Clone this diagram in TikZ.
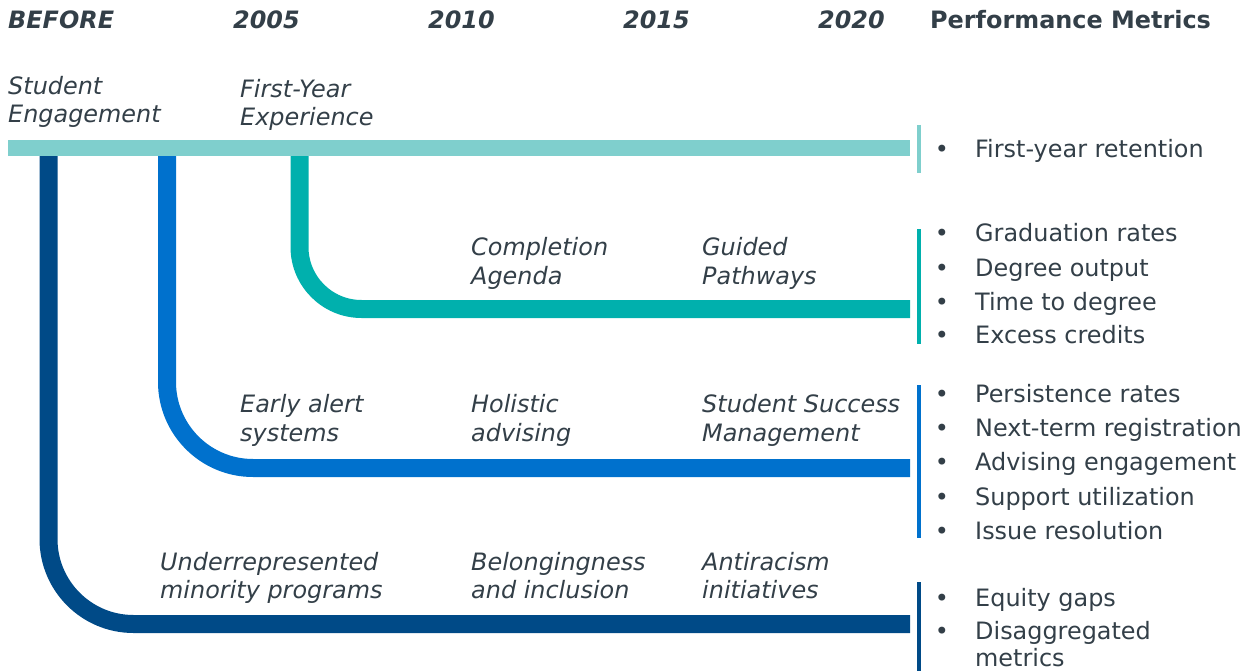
\documentclass[tikz,border=0pt]{standalone}
\usepackage{fontspec}
\setmainfont{DejaVu Sans}
\definecolor{cLight}{HTML}{7FCFCD}
\definecolor{cTeal}{HTML}{00B0AD}
\definecolor{cBlue}{HTML}{0071CD}
\definecolor{cNavy}{HTML}{004A87}
\definecolor{cText}{HTML}{333F48}
\begin{document}
\begin{tikzpicture}[x=1bp,y=-1bp,
  hdr/.style={anchor=base west,inner sep=0pt,text=cText,font=\fontsize{24}{29}\selectfont\bfseries\itshape},
  lbl/.style={anchor=base west,inner sep=0pt,text=cText,align=left,font=\fontsize{24}{28.5}\selectfont\itshape},
  met/.style={anchor=base west,inner sep=0pt,text=cText,align=left,font=\fontsize{24}{27.4}\selectfont},
  bul/.style={anchor=base,inner sep=0pt,text=cText,font=\fontsize{24}{29}\selectfont},
  track/.style={line width=18bp},
  brk/.style={line width=3.5bp}]
\useasboundingbox (0,0) rectangle (1249,671);
% headers
\node[hdr] (hBefore) at (8,29) {BEFORE};
\node[hdr] (h2005) at (233,29) {2005};
\node[hdr] (h2010) at (428,29) {2010};
\node[hdr] (h2015) at (623,29) {2015};
\node[hdr] (h2020) at (818,29) {2020};
\node[hdr,font=\fontsize{24}{29}\selectfont\bfseries] (hPM) at (930,29) {Performance Metrics};
% coordinates
\coordinate (barL) at (8,148);
\coordinate (barR) at (910,148);
\coordinate (tTop) at (299.5,153);
\coordinate (tEnd) at (910,309);
\coordinate (bTop) at (167,153);
\coordinate (bEnd) at (910,468);
\coordinate (nTop) at (48.5,153);
\coordinate (nEnd) at (910,624);
% tracks
\draw[cNavy,track,rounded corners=85bp] (nTop) |- (nEnd);
\draw[cBlue,track,rounded corners=86bp] (bTop) |- (bEnd);
\draw[cTeal,track,rounded corners=62bp] (tTop) |- (tEnd);
\draw[cLight,line width=16bp] (barL) -- (barR);
% brackets
\coordinate (k1a) at (919,125); \coordinate (k1b) at (919,173);
\coordinate (k2a) at (919,229); \coordinate (k2b) at (919,344);
\coordinate (k3a) at (919,385); \coordinate (k3b) at (919,538);
\coordinate (k4a) at (919,582); \coordinate (k4b) at (919,671);
\draw[cLight,brk] (k1a) -- (k1b);
\draw[cTeal,brk] (k2a) -- (k2b);
\draw[cBlue,brk] (k3a) -- (k3b);
\draw[cNavy,brk] (k4a) -- (k4b);
% labels (anchored at the baseline of their last line)
\node[lbl] (lSE) at (8,123) {Student\\Engagement};
\node[lbl] (lFYE) at (240,126) {First-Year\\Experience};
\node[lbl] (lCA) at (471,284) {Completion\\Agenda};
\node[lbl] (lGP) at (702,284) {Guided\\Pathways};
\node[lbl] (lEA) at (240,441) {Early alert\\systems};
\node[lbl] (lHA) at (471,441) {Holistic\\advising};
\node[lbl] (lSSM) at (702,441) {Student Success\\Management};
\node[lbl] (lURM) at (160,598.5) {Underrepresented\\minority programs};
\node[lbl] (lBI) at (471,598.5) {Belongingness\\and inclusion};
\node[lbl] (lAI) at (702,598.5) {Antiracism\\initiatives};
% metrics
\foreach \n/\y/\t in {m1/157.7/First-year retention, m2/242/Graduation rates, m3/276/Degree output, m4/310/Time to degree, m5/343.5/Excess credits, m6/402.3/Persistence rates, m7/436.5/Next-term registration, m8/470.7/Advising engagement, m9/505/Support utilization, m10/539/Issue resolution, m11/606/Equity gaps}{
  \node[bul] (b\n) at (942,\y) {•};
  \node[met] (\n) at (975,\y) {\t};
}
\node[bul] (bm12) at (942,639.3) {•};
\node[met] (m12) at (975,666.7) {Disaggregated\\metrics};
\end{tikzpicture}
\end{document}
